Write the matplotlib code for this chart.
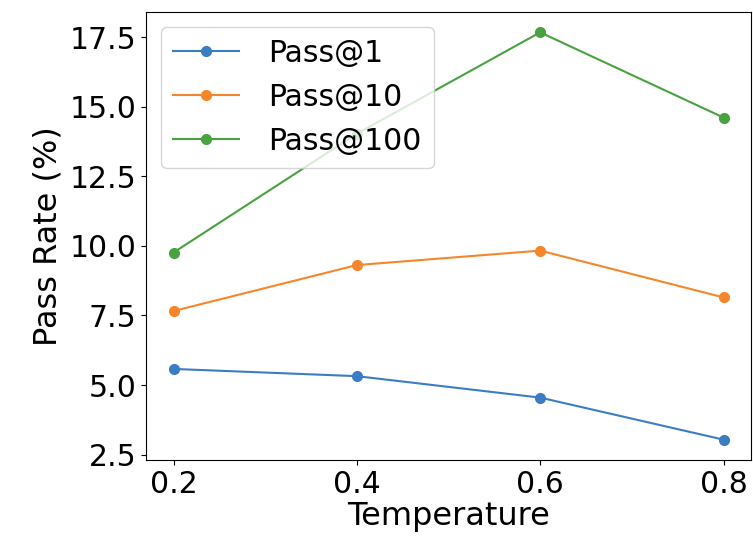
import matplotlib
matplotlib.use("Agg")
import matplotlib.pyplot as plt

temperature = [0.2, 0.4, 0.6, 0.8]
pass_at_1 = [5.58, 5.32, 4.55, 3.04]
pass_at_10 = [7.66, 9.31, 9.83, 8.15]
pass_at_100 = [9.76, 14.03, 17.67, 14.61]

plt.rcParams['font.size'] = 21.5
plt.rcParams['axes.labelsize'] = 23

fig, ax = plt.subplots(figsize=(7.53, 5.39), dpi=100)
fig.subplots_adjust(left=146/753, right=751/753, bottom=1-460/539, top=1-12/539)

ax.plot(temperature, pass_at_1, marker='o', markersize=7, label="Pass@1", color='#3b7dc4')
ax.plot(temperature, pass_at_10, marker='o', markersize=7, label="Pass@10", color='#f6862a')
ax.plot(temperature, pass_at_100, marker='o', markersize=7, label="Pass@100", color='#47a23f')

ax.set_xticks(temperature)
ax.set_yticks([2.5, 5.0, 7.5, 10.0, 12.5, 15.0, 17.5])
ax.set_xlabel("Temperature", labelpad=2)
ax.set_ylabel("Pass Rate (%)")
ax.legend(loc='upper left', handlelength=2.2, handletextpad=1.0)

fig.savefig("out.png")
